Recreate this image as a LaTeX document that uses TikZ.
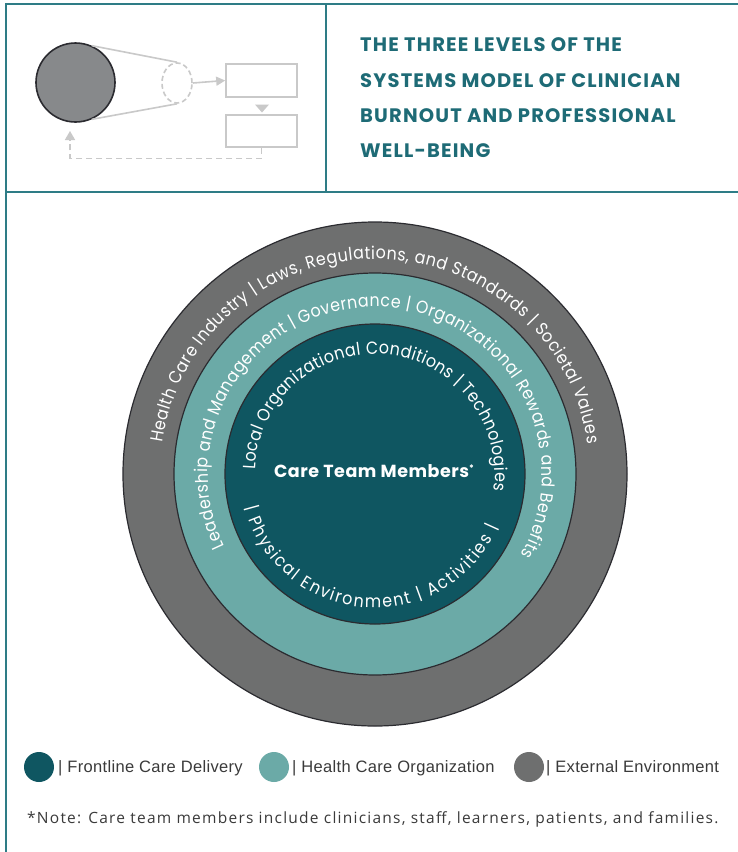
\documentclass[tikz,border=0pt]{standalone}
\usepackage{fontspec}
\setmainfont{Liberation Sans}[LetterSpace=2]
\newfontfamily\ringfont{Poppins}[FakeStretch=0.9]
\newfontfamily\titlefont{Poppins}[LetterSpace=6]
\newfontfamily\centerfont{Poppins}[LetterSpace=3]
\newfontfamily\notefont{Open Sans}[LetterSpace=8]
\usetikzlibrary{decorations.text, shapes.geometric, arrows.meta, calc}
\definecolor{framec}{HTML}{2E7C86}
\definecolor{titlec}{HTML}{1E6B76}
\definecolor{darkteal}{HTML}{0F5661}
\definecolor{midteal}{HTML}{6BAAA7}
\definecolor{greyring}{HTML}{6E6F6F}
\definecolor{ringline}{HTML}{2B2B30}
\definecolor{iconline}{HTML}{C9C9C9}
\definecolor{icongrey}{HTML}{87898B}
\definecolor{legtext}{HTML}{3A3A3A}
\tikzset{
  frameline/.style={draw=framec, line width=2pt},
  ring/.style={circle, draw=ringline, line width=1.2pt, inner sep=0pt},
  ringtext/.style={decorate, decoration={text along path, text align={fit to path}, text={#1}}},
  iconln/.style={draw=iconline, line width=1.6pt},
  titleline/.style={anchor=base west, inner sep=0pt, font=\titlefont\bfseries\fontsize{19.5}{23}\selectfont, text=titlec},
  legdot/.style={circle, inner sep=0pt, minimum size=30pt},
  legtxt/.style={anchor=west, inner sep=0pt, font=\fontsize{16.5}{20}\selectfont, text=legtext}
}
\begin{document}
\begin{tikzpicture}[x=1pt,y=1pt]
\useasboundingbox (0,0) rectangle (738,-852);
\fill[white] (0,0) rectangle (738,-852);
% frame
\draw[frameline] (738,-4) -- (5.5,-4) -- (5.5,-852);
\draw[frameline] (5.5,-191.5) -- (738,-191.5);
\draw[frameline] (325.5,-4) -- (325.5,-191.5);
% icon
\node[circle, draw=ringline, line width=1.6pt, fill=icongrey, minimum size=79pt, inner sep=0pt] (bigc) at (75.5,-82.5) {};
\node[ellipse, iconln, dashed, dash pattern=on 5pt off 3pt, minimum width=30pt, minimum height=40pt, inner sep=0pt] (smallc) at (177,-83) {};
\node[rectangle, iconln, minimum width=71pt, minimum height=33pt, inner sep=0pt] (r1) at (261.5,-80.5) {};
\node[rectangle, iconln, minimum width=71pt, minimum height=32pt, inner sep=0pt] (r2) at (261.5,-131) {};
\draw[iconln] (bigc.66) -- (smallc.north);
\draw[iconln] (bigc.-66) -- (smallc.south);
\draw[iconln, -{Triangle[length=9pt,width=9pt]}, iconline] (smallc.east) -- (r1.west);
\fill[iconline] (255,-104.5) -- (269,-104.5) -- (262,-112.5) -- cycle;
\coordinate (fb) at (70,-131);
\draw[iconln, dash pattern=on 6pt off 4pt, -{Triangle[length=9pt,width=10pt]}] (r2.south) -- ++(0,-10.5) -| (fb);
% title
\node[titleline] (t1) at (360,-51) {THE THREE LEVELS OF THE};
\node[titleline] (t2) at (360,-87) {SYSTEMS MODEL OF CLINICIAN};
\node[titleline] (t3) at (360,-122) {BURNOUT AND PROFESSIONAL};
\node[titleline] (t4) at (360,-157) {WELL-BEING};
% rings
\node[ring, fill=greyring, minimum size=504pt] (outer) at (375,-474) {};
\node[ring, fill=midteal, minimum size=402pt] (mid) at (375,-474) {};
\node[ring, fill=darkteal, minimum size=300pt] (inner) at (375,-474) {};
% ring texts
\path[ringtext={|\ringfont\fontsize{17.6}{20}\selectfont\color{white}|Health Care Industry {\textbar} Laws, Regulations, and Standards {\textbar} Societal Values}]
  (outer.center) ++(171.6:215pt) arc[start angle=171.6, end angle=8, radius=215pt];
\path[ringtext={|\ringfont\fontsize{17.6}{20}\selectfont\color{white}|Leadership and Management {\textbar} Governance {\textbar} Organizational Rewards and Benefits}]
  (mid.center) ++(205.7:167pt) arc[start angle=205.7, end angle=-29, radius=167pt];
\path[ringtext={|\ringfont\fontsize{17.6}{20}\selectfont\color{white}|Local Organizational Conditions {\textbar} Technologies}]
  (inner.center) ++(178:120pt) arc[start angle=178, end angle=-8, radius=120pt];
\path[ringtext={|\ringfont\fontsize{17.6}{20}\selectfont\color{white}|{\textbar} Physical Environment {\textbar} Activities {\textbar}}]
  (inner.center) ++(-165.5:134pt) arc[start angle=-165.5, end angle=-23.5, radius=134pt];
\node[inner sep=0pt, text=white, font=\centerfont\bfseries\fontsize{17.5}{20}\selectfont] (ctm) at (374,-471) {Care Team Members\raisebox{0.35em}{\fontsize{9}{10}\selectfont*}};
% legend
\node[legdot, fill=darkteal] (l1) at (39,-767) {};
\node[legtxt] (l1t) at (58,-768) {| Frontline Care Delivery};
\node[legdot, fill=midteal] (l2) at (274,-767) {};
\node[legtxt] (l2t) at (292,-768) {| Health Care Organization};
\node[legdot, fill=greyring] (l3) at (529,-767) {};
\node[legtxt] (l3t) at (546,-768) {| External Environment};
\node[legtxt, anchor=west, font=\notefont\fontsize{15.5}{19}\selectfont] (note) at (27,-819) {*Note: Care team members include clinicians, staff, learners, patients, and families.};
\end{tikzpicture}
\end{document}
